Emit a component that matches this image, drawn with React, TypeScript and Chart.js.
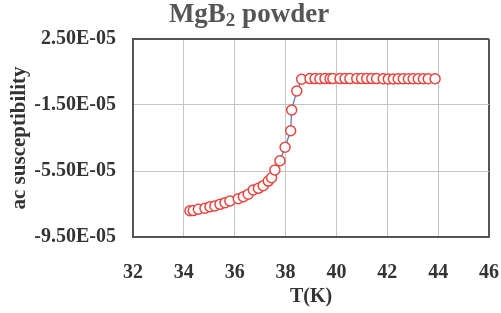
import React, { useEffect, useRef } from "react";
import { Chart, registerables } from "chart.js";

Chart.register(...registerables);

const temperatures = [
  34.24, 34.37, 34.57, 34.83, 35.03, 35.22, 35.42, 35.62, 35.81, 36.14,
  36.34, 36.53, 36.73, 36.93, 37.12, 37.32, 37.45, 37.58, 37.78, 37.98,
  38.2, 38.24, 38.44, 38.63, 38.96, 39.16, 39.35, 39.55, 39.75, 39.86,
  40.14, 40.34, 40.53, 40.8, 40.99, 41.19, 41.39, 41.58, 41.84, 42.04,
  42.24, 42.43, 42.63, 42.83, 43.02, 43.22, 43.42, 43.61, 43.88,
];

const susceptibility = [
  -7.91e-5, -7.9e-5, -7.82e-5, -7.76e-5, -7.66e-5, -7.62e-5, -7.52e-5, -7.42e-5, -7.32e-5, -7.18e-5,
  -7.06e-5, -6.91e-5, -6.65e-5, -6.55e-5, -6.39e-5, -6.11e-5, -5.91e-5, -5.44e-5, -4.88e-5, -4.06e-5,
  -3.06e-5, -1.8e-5, -0.65e-5, 0.06e-5, 0.1e-5, 0.1e-5, 0.09e-5, 0.1e-5, 0.1e-5, 0.1e-5,
  0.1e-5, 0.1e-5, 0.1e-5, 0.1e-5, 0.1e-5, 0.1e-5, 0.1e-5, 0.1e-5, 0.09e-5, 0.08e-5,
  0.08e-5, 0.09e-5, 0.09e-5, 0.09e-5, 0.09e-5, 0.09e-5, 0.09e-5, 0.09e-5, 0.09e-5,
];

const yTicks = [-9.5e-5, -5.5e-5, -1.5e-5, 2.5e-5];
const xTicks = [32, 34, 36, 38, 40, 42, 44, 46];

const titleMain = "MgB";
const titleSub = "2";
const titleRest = " powder";
const xTitle = "T(K)";
const yTitle = "ac susceptibility";

const SERIF = '"Liberation Serif", "Times New Roman", serif';

function formatSci(v: number): string {
  const s = v.toExponential(2).toUpperCase();
  const m = s.match(/^(-?[\d.]+)E([+-])(\d+)$/);
  if (!m) return s;
  const exp = m[3].padStart(2, "0");
  return `${m[1]}E${m[2]}${exp}`;
}

const titlePlugin = {
  id: "subscriptTitle",
  afterDraw(chart: any) {
    const ctx = chart.ctx as CanvasRenderingContext2D;
    ctx.save();
    ctx.fillStyle = "#555555";
    ctx.textBaseline = "alphabetic";
    ctx.textAlign = "left";
    const big = `bold 27px ${SERIF}`;
    const small = `bold 19px ${SERIF}`;
    ctx.font = big;
    const w1 = ctx.measureText(titleMain).width;
    const w3 = ctx.measureText(titleRest).width;
    ctx.font = small;
    const w2 = ctx.measureText(titleSub).width;
    const total = w1 + w2 + w3;
    const cx = 249;
    const baseY = 22;
    let x = cx - total / 2;
    ctx.font = big;
    ctx.fillText(titleMain, x, baseY);
    x += w1;
    ctx.font = small;
    ctx.fillText(titleSub, x, baseY + 4);
    x += w2;
    ctx.font = big;
    ctx.fillText(titleRest, x, baseY);
    ctx.restore();
  },
};

export default function App() {
  const canvasRef = useRef<HTMLCanvasElement | null>(null);

  useEffect(() => {
    if (!canvasRef.current) return;
    const chart = new Chart(canvasRef.current, {
      type: "line",
      data: {
        datasets: [
          {
            data: temperatures.map((t, i) => ({ x: t, y: susceptibility[i] })),
            borderColor: "#4a72c2",
            borderWidth: 1.2,
            pointRadius: 5,
            pointBorderWidth: 1.5,
            pointBorderColor: "#e6463e",
            pointBackgroundColor: "#ffffff",
            fill: false,
            tension: 0,
          },
        ],
      },
      options: {
        animation: false,
        responsive: false,
        layout: { padding: { top: 39, right: 12, left: 0, bottom: 0 } },
        plugins: {
          legend: { display: false },
          tooltip: { enabled: false },
          title: { display: false },
        },
        scales: {
          x: {
            type: "linear",
            min: 32,
            max: 46,
            afterBuildTicks: (scale: any) => {
              scale.ticks = xTicks.map((v) => ({ value: v }));
            },
            afterFit: (scale: any) => {
              scale.height = 76;
            },
            grid: {
              drawTicks: true,
              tickLength: 24,
              tickColor: "rgba(0,0,0,0)",
              color: (c: any) => (c.tick && c.tick.value === 46 ? "#555555" : "#c4c4c4"),
              lineWidth: (c: any) => (c.tick && c.tick.value === 46 ? 2 : 1),
            },
            border: { display: true, color: "#555555", width: 2 },
            ticks: {
              padding: 0,
              color: "#333333",
              font: { family: SERIF, size: 20, weight: "bold" },
              callback: (v: any) => String(v),
            },
            title: {
              display: true,
              text: xTitle,
              color: "#333333",
              font: { family: SERIF, size: 20, weight: "bold" },
              padding: { top: 0, bottom: 4 },
            },
          },
          y: {
            type: "linear",
            min: -9.5e-5,
            max: 2.5e-5,
            afterBuildTicks: (scale: any) => {
              scale.ticks = yTicks.map((v) => ({ value: v }));
            },
            afterFit: (scale: any) => {
              scale.width = 133;
            },
            grid: {
              drawTicks: true,
              tickLength: 17,
              tickColor: "rgba(0,0,0,0)",
              color: (c: any) => (c.tick && c.tick.value > 2.4e-5 ? "#555555" : "#c4c4c4"),
              lineWidth: (c: any) => (c.tick && c.tick.value > 2.4e-5 ? 2 : 1),
            },
            border: { display: true, color: "#555555", width: 2 },
            ticks: {
              padding: 0,
              color: "#333333",
              font: { family: SERIF, size: 20, weight: "bold" },
              callback: (v: any) => formatSci(Number(v)),
            },
            title: {
              display: true,
              text: yTitle,
              color: "#333333",
              font: { family: SERIF, size: 21, weight: "bold" },
              padding: { top: 7, bottom: 0 },
            },
          },
        },
      },
      plugins: [titlePlugin],
    } as any);
    return () => chart.destroy();
  }, []);

  return (
    <div style={{ position: "absolute", left: 0, top: 0, width: 501, height: 313, background: "#ffffff" }}>
      <canvas ref={canvasRef} width={501} height={313} style={{ display: "block" }} />
    </div>
  );
}
